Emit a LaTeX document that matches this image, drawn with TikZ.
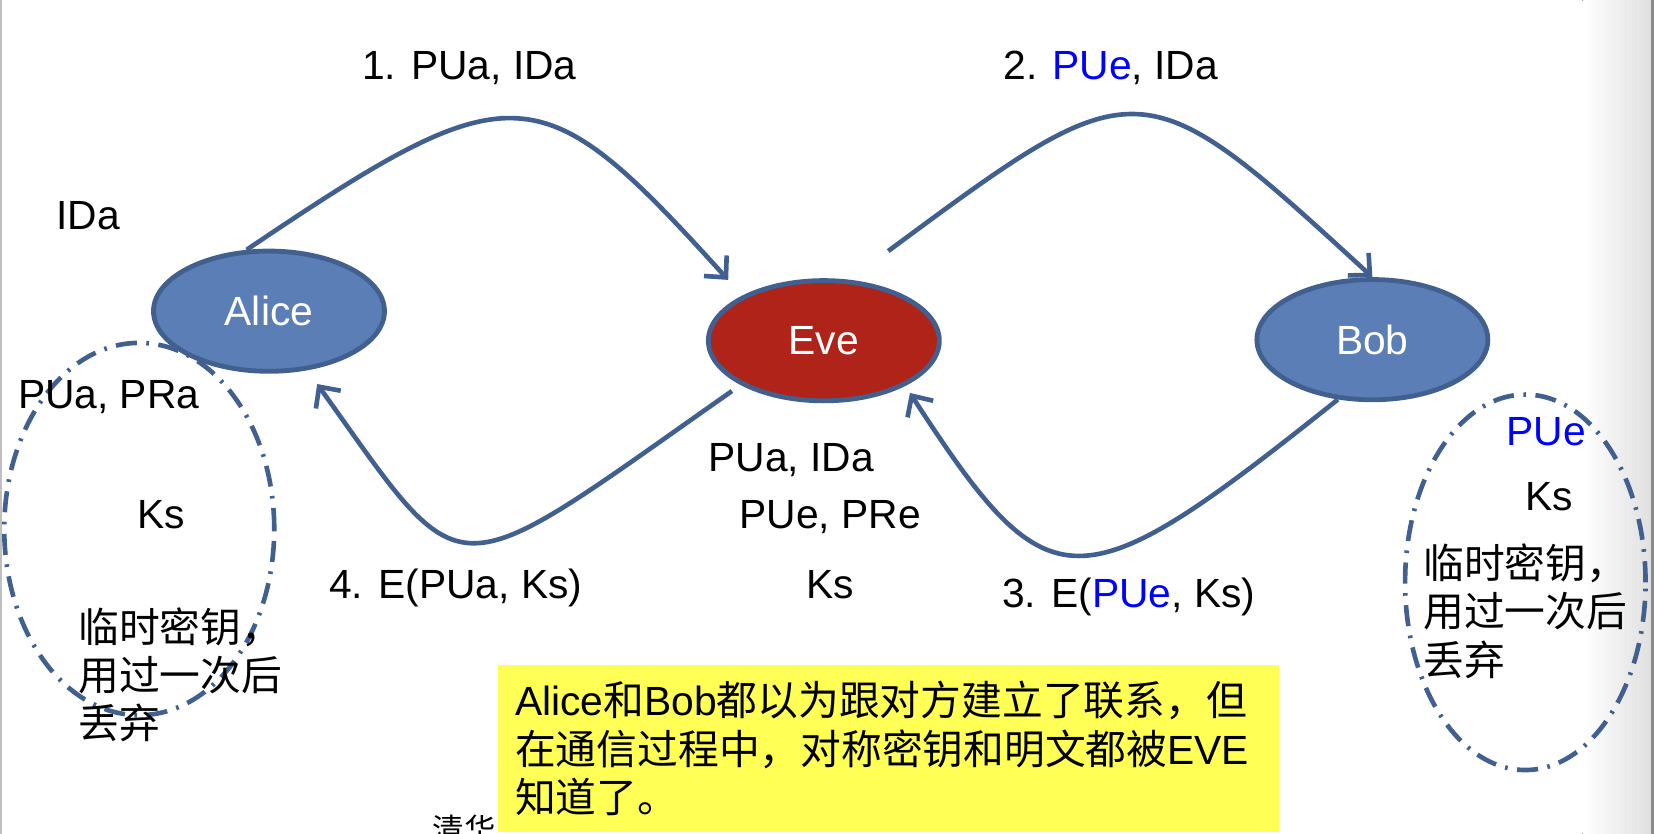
\documentclass[tikz,border=0pt]{standalone}
\usepackage{fontspec}
\setmainfont{Liberation Sans}
\newfontfamily\cjk{Noto Sans CJK SC}
\usepackage{tikz}
\usetikzlibrary{positioning}
\usetikzlibrary{shapes.geometric}
\usetikzlibrary{arrows.meta}
\usetikzlibrary{calc}
\usepackage{xcolor}
\definecolor{linkblue}{HTML}{41608F}
\definecolor{partyblue}{HTML}{5A7EB5}
\definecolor{evered}{HTML}{AF2318}
\definecolor{keyblue}{HTML}{0000FF}
\definecolor{notefill}{HTML}{FFFF55}
\newcommand{\ltn}[1]{{\rmfamily #1}}

\begin{document}
\begin{tikzpicture}[
  x=0.02cm, y=-0.02cm,
  font=\fontsize{22}{26}\selectfont,
  party/.style={
    ellipse, draw=linkblue, line width=2.6pt,
    fill=partyblue, text=white,
    minimum width=4.38cm, minimum height=2.28cm,
    inner sep=0pt
  },
  arrow/.style={-{Straight Barb[length=0.3cm,width=0.58cm]}, draw=linkblue, line width=2.5pt},
  ring/.style={
    ellipse, draw=linkblue, line width=2.5pt,
    dash pattern=on 0.4cm off 0.18cm on 0.05cm off 0.18cm,
    inner sep=0pt
  },
  lab/.style={anchor=base, inner sep=0pt},
  zh/.style={font=\fontsize{22}{26}\selectfont\cjk, align=left, anchor=base west, inner sep=0pt},
  note/.style={
    fill=notefill, font=\fontsize{22}{26}\selectfont\cjk,
    align=left, minimum width=14.8cm, minimum height=3.17cm,
    text width=14.16cm, inner xsep=0.32cm, inner ysep=0pt
  }
]
\useasboundingbox (0,0) rectangle (1568,790.5);

% --- Slide edges ---
\fill[left color=white, right color=black!12] (1500,0) rectangle (1565,790.5);
\fill[black!45] (1565,0) rectangle (1568,790.5);
\fill[black!25] (0,0) rectangle (1.5,790.5);

% --- Parties ---
\node[party] (A) at (255,295) {Alice};
\node[party, fill=evered] (E) at (781,323) {Eve};
\node[party] (B) at (1301,322) {Bob};

% --- Key rings (dash-dot) ---
\node[ring, minimum width=5.12cm, minimum height=7.06cm] (RA) at (132,501.5) {};
\node[ring, minimum width=4.56cm, minimum height=7.12cm] (RB) at (1446,552) {};

% --- Messages ---
\coordinate (s2) at (842,238);
\draw[arrow, shorten >=0.4cm] (A.110) .. controls +(255,-172) and +(-192,-212) .. (E.151);
\draw[arrow] (s2) .. controls +(238,-176) and +(-220,-202) .. (B.north);
\draw[arrow, shorten >=0.16cm] (B.240) .. controls +(-248,198) and +(137,211) .. (E.-29);
\draw[arrow, shorten <=0.2cm, shorten >=0.32cm] (E.208) .. controls +(-281,197) and +(153,214) .. (A.-57);

\node[lab] (m1) at (445,75) {1. PUa, IDa};
\node[lab] (m2) at (1053,75) {2. \textcolor{keyblue}{PUe}, IDa};
\node[lab] (m3) at (1070,576) {3. E(\textcolor{keyblue}{PUe}, Ks)};
\node[lab] (m4) at (432,567) {4. E(PUa, Ks)};

% --- What each side holds ---
\node[lab] (ida) at (83.5,218) {IDa};
\node[lab] (pa) at (103,387) {PUa, PRa};
\node[lab] (ksa) at (152.5,501) {Ks};
\node[zh] (za) at (74,700) {临时密钥，\\用过一次后\\丢弃};

\node[lab] (ke1) at (750,447) {PUa, IDa};
\node[lab] (ke2) at (787,501) {PUe, PRe};
\node[lab] (ke3) at (787,567) {Ks};

\node[lab, text=keyblue] (pb) at (1466,422) {PUe};
\node[lab] (ksb) at (1469,484) {Ks};
\node[zh] (zb) at (1349,640) {临时密钥，\\用过一次后\\丢弃};

% --- Footer and note ---
\node[anchor=north west, inner sep=0pt, font=\fontsize{17}{20}\selectfont\cjk] (F) at (410,772) {清华};
\node[note, anchor=north west] (N) at (472,630) {%
\ltn{Alice}和\ltn{Bob}都以为跟对方建立了联系，但\\
在通信过程中，对称密钥和明文都被\ltn{EVE}\\
知道了。};

\end{tikzpicture}
\end{document}
